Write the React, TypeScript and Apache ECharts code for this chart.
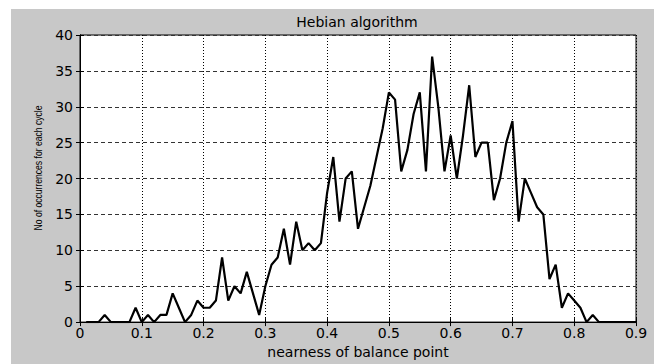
import React, { useEffect, useRef } from "react";
import * as echarts from "echarts";

const titleText = "Hebian algorithm";
const xName = "nearness of balance point";
const yName = "No of occurrences for each cycle";

const xTicks = [0, 0.1, 0.2, 0.3, 0.4, 0.5, 0.6, 0.7, 0.8, 0.9];
const yTicks = [0, 5, 10, 15, 20, 25, 30, 35, 40];

const xs = [
  0.01, 0.02, 0.03, 0.04, 0.05, 0.06, 0.07, 0.08, 0.09, 0.1,
  0.11, 0.12, 0.13, 0.14, 0.15, 0.16, 0.17, 0.18, 0.19, 0.2,
  0.21, 0.22, 0.23, 0.24, 0.25, 0.26, 0.27, 0.28, 0.29, 0.3,
  0.31, 0.32, 0.33, 0.34, 0.35, 0.36, 0.37, 0.38, 0.39, 0.4,
  0.41, 0.42, 0.43, 0.44, 0.45, 0.46, 0.47, 0.48, 0.49, 0.5,
  0.51, 0.52, 0.53, 0.54, 0.55, 0.56, 0.57, 0.58, 0.59, 0.6,
  0.61, 0.62, 0.63, 0.64, 0.65, 0.66, 0.67, 0.68, 0.69, 0.7,
  0.71, 0.72, 0.73, 0.74, 0.75, 0.76, 0.77, 0.78, 0.79, 0.8,
  0.81, 0.82, 0.83, 0.84, 0.85, 0.86, 0.87, 0.88, 0.89, 0.9,
];

const counts = [
  0, 0, 0, 1, 0, 0, 0, 0, 2, 0,
  1, 0, 1, 1, 4, 2, 0, 1, 3, 2,
  2, 3, 9, 3, 5, 4, 7, 4, 1, 5,
  8, 9, 13, 8, 14, 10, 11, 10, 11, 18,
  23, 14, 20, 21, 13, 16, 19, 23, 27, 32,
  31, 21, 24, 29, 32, 21, 37, 30, 21, 26,
  20, 26, 33, 23, 25, 25, 17, 20, 25, 28,
  14, 20, 18, 16, 15, 6, 8, 2, 4, 3,
  2, 0, 1, 0, 0, 0, 0, 0, 0, 0,
];

const FONT = "'DejaVu Sans', sans-serif";

export default function App() {
  const ref = useRef<HTMLDivElement>(null);

  useEffect(() => {
    if (!ref.current) return;
    const chart = echarts.init(ref.current, undefined, { renderer: "svg" });
    const data = xs.map((x, i) => [x, counts[i]]);
    const xMin = xTicks[0];
    const xMax = xTicks[xTicks.length - 1];
    const xInt = xTicks[1] - xTicks[0];
    const yMin = yTicks[0];
    const yMax = yTicks[yTicks.length - 1];
    const yInt = yTicks[1] - yTicks[0];

    const labelStyle = { color: "#000", fontSize: 14, fontFamily: FONT };

    chart.setOption({
      animation: false,
      backgroundColor: "transparent",
      grid: {
        left: 80,
        top: 35,
        right: 18,
        bottom: 32,
        show: true,
        backgroundColor: "#fff",
        borderColor: "#000",
        borderWidth: 1,
      },
      xAxis: [
        {
          type: "value",
          min: xMin,
          max: xMax,
          interval: xInt,
          position: "bottom",
          name: xName,
          nameLocation: "middle",
          nameGap: 17,
          nameTextStyle: { color: "#000", fontSize: 14, fontFamily: FONT },
          axisLine: { show: true, lineStyle: { color: "#000", width: 1 } },
          axisTick: { show: true, inside: true, length: 4, lineStyle: { color: "#000" } },
          axisLabel: {
            ...labelStyle,
            margin: 4,
            formatter: (v: number) => (v === 0 ? "0" : v.toFixed(1)),
          },
          splitLine: {
            show: true,
            lineStyle: { color: "#000", width: 1, type: [1, 2] },
          },
        },
        {
          type: "value",
          min: xMin,
          max: xMax,
          interval: xInt,
          position: "top",
          axisLine: { show: true, lineStyle: { color: "#000", width: 1 } },
          axisTick: { show: true, inside: true, length: 4, lineStyle: { color: "#000" } },
          axisLabel: { show: false },
          splitLine: { show: false },
        },
      ],
      yAxis: [
        {
          type: "value",
          min: yMin,
          max: yMax,
          interval: yInt,
          position: "left",
          axisLine: { show: true, lineStyle: { color: "#000", width: 1 } },
          axisTick: { show: true, inside: true, length: 4, lineStyle: { color: "#000" } },
          axisLabel: { ...labelStyle, margin: 7 },
          splitLine: {
            show: true,
            lineStyle: { color: "#333", width: 1, type: [4, 3] },
          },
        },
        {
          type: "value",
          min: yMin,
          max: yMax,
          interval: yInt,
          position: "right",
          axisLine: { show: true, lineStyle: { color: "#000", width: 1 } },
          axisTick: { show: true, inside: true, length: 4, lineStyle: { color: "#000" } },
          axisLabel: { show: false },
          splitLine: { show: false },
        },
      ],
      graphic: [
        {
          type: "text",
          x: 357,
          y: 22,
          style: {
            text: titleText,
            font: `14px ${FONT}`,
            fill: "#000",
            textAlign: "center",
            textVerticalAlign: "middle",
            align: "center",
            verticalAlign: "middle",
          },
        },
        {
          type: "text",
          x: 38,
          y: 168,
          rotation: Math.PI / 2,
          scaleX: 0.78,
          style: {
            text: yName,
            font: "11px 'Liberation Sans', sans-serif",
            fill: "#000",
            textAlign: "center",
            textVerticalAlign: "middle",
            align: "center",
            verticalAlign: "middle",
          },
        },
      ],
      series: [
        {
          type: "line",
          xAxisIndex: 0,
          yAxisIndex: 0,
          data,
          showSymbol: false,
          symbol: "none",
          lineStyle: { color: "#000", width: 2.2 },
          z: 5,
        },
      ],
    });

    return () => chart.dispose();
  }, []);

  return (
    <div style={{ position: "absolute", left: 0, top: 0, width: 654, height: 364, background: "#fff" }}>
      <div style={{ position: "absolute", left: 11, top: 9, width: 643, height: 355, background: "#c8c8c8" }} />
      <div ref={ref} style={{ position: "absolute", left: 0, top: 0, width: 654, height: 364 }} />
    </div>
  );
}
